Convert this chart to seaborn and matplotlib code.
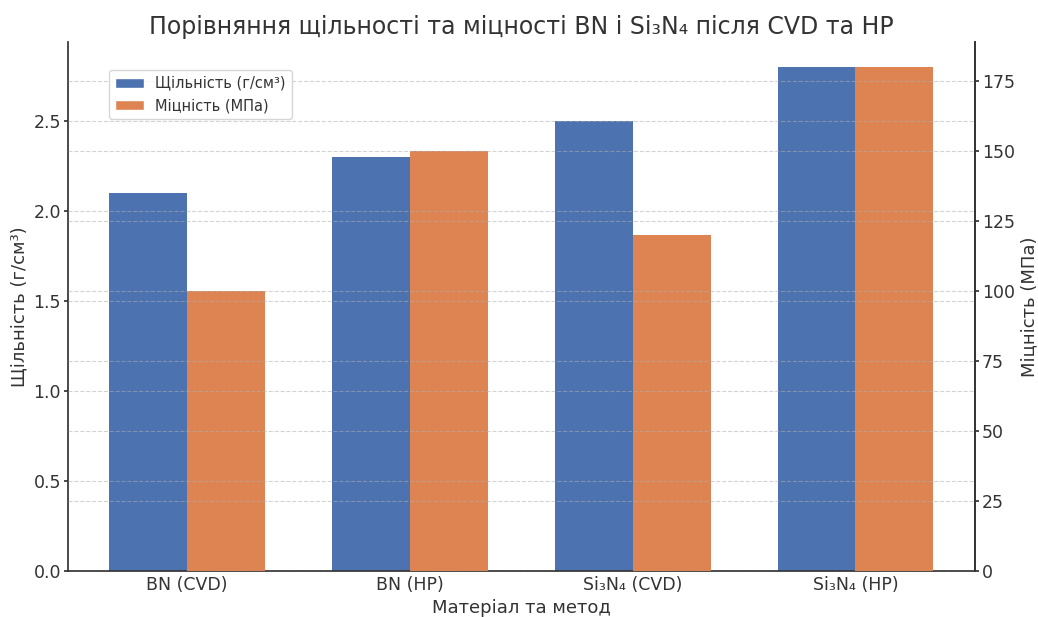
import matplotlib
matplotlib.use("Agg")
import matplotlib.pyplot as plt
import pandas as pd
import seaborn as sns
from matplotlib.patches import Patch

materials = ["BN (CVD)", "BN (HP)", "Si₃N₄ (CVD)", "Si₃N₄ (HP)"]
density = [2.1, 2.3, 2.5, 2.8]
strength = [100, 150, 120, 180]

dens_label = "Щільність (г/см³)"
str_label = "Міцність (МПа)"
blue = "#4C72B0"
orange = "#DD8452"

sns.set_theme(style="ticks")
plt.rcParams["font.family"] = ["DejaVu Sans"]
for key in ["text.color", "axes.labelcolor", "xtick.color", "ytick.color", "axes.edgecolor"]:
    plt.rcParams[key] = "#333333"

# long table so seaborn dodges the two metrics side by side
df1 = pd.DataFrame({"material": materials, "metric": dens_label, "value": density})
df2 = pd.DataFrame({"material": materials, "metric": str_label, "value": strength})
order = [dens_label, str_label]

fig, ax1 = plt.subplots(figsize=(10.38, 6.17), dpi=100)
ax2 = ax1.twinx()

sns.barplot(data=pd.concat([df1, df2.assign(value=0.0)]), x="material", y="value",
            hue="metric", hue_order=order, palette=[blue, orange], width=0.7,
            errorbar=None, ax=ax1, legend=False, saturation=1, linewidth=0)
sns.barplot(data=pd.concat([df1.assign(value=0.0), df2]), x="material", y="value",
            hue="metric", hue_order=order, palette=[blue, orange], width=0.7,
            errorbar=None, ax=ax2, legend=False, saturation=1, linewidth=0)

ax1.set_ylim(0, max(density) * 1.05)
ax2.set_ylim(0, max(strength) * 1.05)
ax1.set_xlim(-0.535, 3.535)

ax1.set_xlabel("Матеріал та метод", fontsize=13)
ax1.set_ylabel(dens_label, fontsize=13)
ax2.set_ylabel(str_label, fontsize=13)
ax1.set_title("Порівняння щільності та міцності BN і Si₃N₄ після CVD та HP", fontsize=17)

grid_kw = dict(linestyle="--", color="#b0b0b0", alpha=0.55, linewidth=0.8)

for ax in (ax1, ax2):
    ax.tick_params(axis="y", labelsize=12.5, length=3, pad=2)
    ax.spines["top"].set_visible(False)
ax1.tick_params(axis="x", labelsize=12.5, length=0)
ax1.grid(False)
ax2.set_axisbelow(False)
ax2.grid(True, axis="y", **grid_kw)
ax2.spines["left"].set_visible(False)
ax2.spines["bottom"].set_visible(False)

# overlay axis carrying the left-axis grid so it shows above all bars
ax3 = ax1.twinx()
ax3.set_yticks(ax1.get_yticks())
ax3.set_ylim(ax1.get_ylim())
ax3.grid(True, axis="both", **grid_kw)
ax3.tick_params(left=False, right=False, labelright=False, labelleft=False,
                bottom=False, labelbottom=False)
for s in ax3.spines.values():
    s.set_visible(False)

handles = [Patch(facecolor=blue, label=dens_label), Patch(facecolor=orange, label=str_label)]
ax3.legend(handles=handles, loc="upper left", bbox_to_anchor=(0.045, 0.947),
           borderaxespad=0, fontsize=10.5, frameon=True, framealpha=0.8)

fig.subplots_adjust(left=0.0655, right=0.939, top=0.932, bottom=0.0746)
fig.savefig("out.png", dpi=100)
